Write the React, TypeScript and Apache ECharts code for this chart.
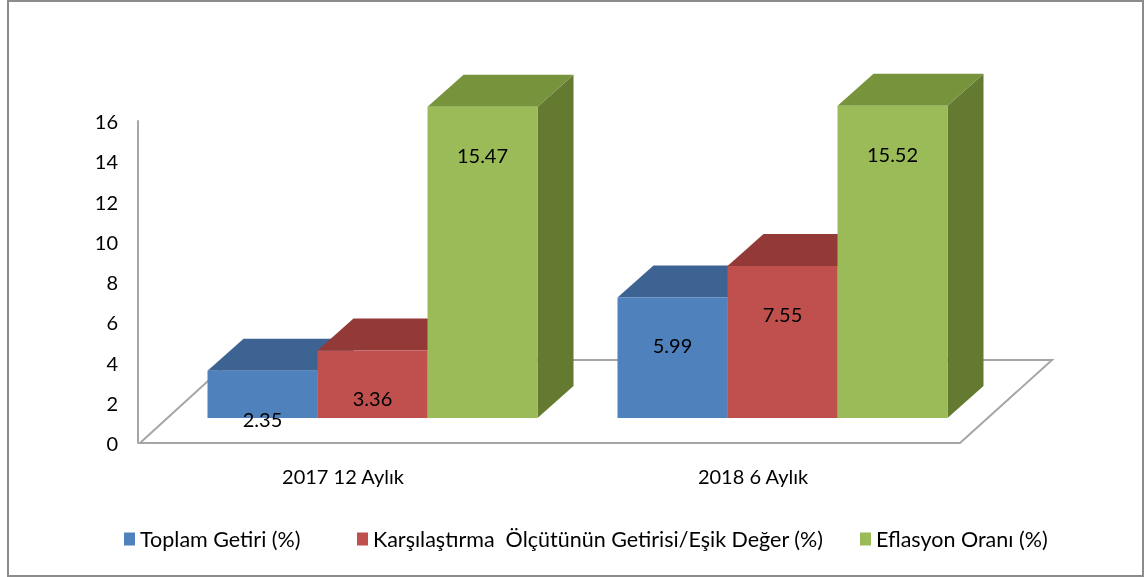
import React, { useEffect, useRef } from "react";
import * as echarts from "echarts";

const categories = ["2017 12 Aylık", "2018 6 Aylık"];
const seriesNames = [
  "Toplam Getiri (%)",
  "Karşılaştırma  Ölçütünün Getirisi/Eşik Değer (%)",
  "Eflasyon Oranı (%)",
];
const toplamGetiri = [2.35, 5.99];
const karsilastirma = [3.36, 7.55];
const enflasyon = [15.47, 15.52];
const yMin = 0;
const yMax = 16;
const yInterval = 2;

const frontColors = ["#4F81BD", "#C0504D", "#9BBB59"];
const topColors = ["#3D6392", "#933A38", "#77933C"];
const sideColors = ["#385D8A", "#8C3836", "#647A31"];

const FONT = "Lato, 'Open Sans', sans-serif";
const W = 1147;
const H = 577;
const GRID = { left: 138, right: 189, top: 121, bottom: 134 };
const DX = 36;
const DY = -32;
const BASE_SHIFT = 25;
const GROUP_SHIFT = 29.5;
const BAR_FRAC = 110 / 410;

function makeRender(s: number) {
  return (params: any, api: any) => {
    const i = api.value(0);
    const v = api.value(1);
    const base = api.coord([i, 0]);
    const top = api.coord([i, v]);
    const catW = api.size([1, 0])[0];
    const bw = catW * BAR_FRAC;
    const cx = base[0] + GROUP_SHIFT;
    const x0 = cx - 1.5 * bw + s * bw;
    const yb = base[1] - BASE_SHIFT;
    const yt = top[1] - BASE_SHIFT;
    return {
      type: "group",
      children: [
        {
          type: "polygon",
          shape: {
            points: [
              [x0 + bw, yt],
              [x0 + bw + DX, yt + DY],
              [x0 + bw + DX, yb + DY],
              [x0 + bw, yb],
            ],
          },
          style: { fill: sideColors[s] },
        },
        {
          type: "polygon",
          shape: {
            points: [
              [x0, yt],
              [x0 + bw, yt],
              [x0 + bw + DX, yt + DY],
              [x0 + DX, yt + DY],
            ],
          },
          style: { fill: topColors[s] },
        },
        {
          type: "rect",
          shape: { x: x0, y: yt, width: bw, height: yb - yt },
          style: { fill: frontColors[s] },
        },
        {
          type: "text",
          x: x0 + bw / 2,
          y: Math.min(yt + 48, yb + 4),
          style: {
            text: v.toFixed(2),
            fill: "#000",
            font: `20px ${FONT}`,
            align: "center",
            verticalAlign: "middle",
          },
          z2: 10,
        },
      ],
    };
  };
}

export default function App() {
  const ref = useRef<HTMLDivElement>(null);
  useEffect(() => {
    if (!ref.current) return;
    const chart = echarts.init(ref.current, undefined, { renderer: "svg" });
    const values = [toplamGetiri, karsilastirma, enflasyon];
    const axisBottom = H - GRID.bottom;
    const axisLeft = GRID.left;
    const axisRight = W - GRID.right;
    const floorBackY = 360;
    const floor = [
      [axisLeft + 2, axisBottom],
      [axisRight + 2, axisBottom],
      [axisRight + 94, floorBackY],
      [axisLeft + 93, floorBackY],
    ];
    const legendLefts = [124, 357, 860];
    chart.setOption({
      animation: false,
      textStyle: { fontFamily: FONT },
      grid: GRID,
      xAxis: {
        type: "category",
        data: categories,
        axisLine: { show: false },
        axisTick: { show: false },
        axisLabel: { margin: 23, fontSize: 20, color: "#000", fontFamily: FONT },
        splitLine: { show: false },
      },
      yAxis: {
        type: "value",
        min: yMin,
        max: yMax,
        interval: yInterval,
        axisLine: { show: true, lineStyle: { color: "#A6A6A6", width: 2 } },
        axisTick: { show: false },
        axisLabel: { margin: 20, fontSize: 20, color: "#000", fontFamily: FONT },
        splitLine: { show: false },
      },
      legend: seriesNames.map((n, k) => ({
        data: [n],
        left: legendLefts[k],
        top: 528,
        padding: 0,
        icon: "rect",
        itemWidth: 11,
        itemHeight: 13,
        textStyle: { fontSize: 21.5, color: "#000", fontFamily: FONT },
      })),
      graphic: [
        {
          type: "rect",
          z: -10,
          shape: { x: 8, y: 1, width: 1135, height: 575 },
          style: { fill: "#fff", stroke: "#8C8C8C", lineWidth: 2 },
        },
        {
          type: "polygon",
          z: -5,
          shape: { points: floor },
          style: { fill: "#fff", stroke: "#A6A6A6", lineWidth: 2 },
        },
      ],
      series: seriesNames.map((n, s) => ({
        name: n,
        type: "custom",
        itemStyle: { color: frontColors[s] },
        data: values[s].map((v, i) => [i, v]),
        encode: { x: 0, y: 1 },
        renderItem: makeRender(s),
        clip: false,
      })),
    });
    return () => chart.dispose();
  }, []);
  return (
    <div
      ref={ref}
      style={{ position: "fixed", left: 0, top: 0, width: W, height: H }}
    />
  );
}
